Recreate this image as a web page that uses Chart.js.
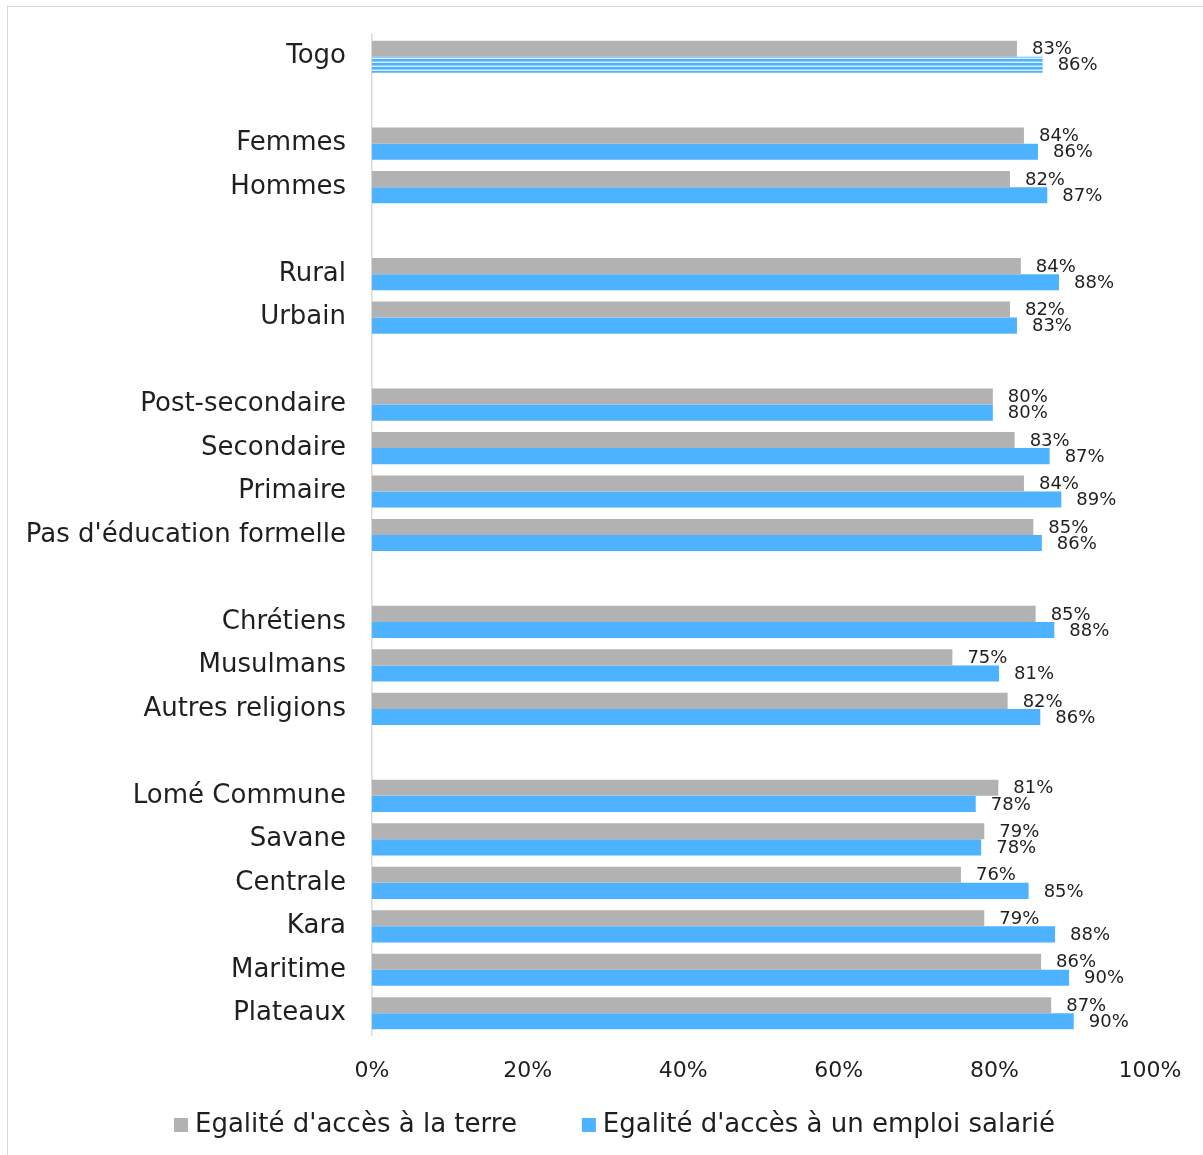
<!DOCTYPE html>
<html>
<head>
<meta charset="utf-8">
<script src="https://cdn.jsdelivr.net/npm/chart.js@4"></script>
<style>
    html, body { margin: 0; padding: 0; background: #fff; }
    #frame {
        position: absolute; left: 7px; top: 6px;
        width: 1200px; height: 1160px;
        border-left: 1.5px solid #d9d9d9; border-top: 1.5px solid #d9d9d9;
    }
    #wrap { position: absolute; left: 8px; top: 7px; width: 1195px; height: 1148px; }
</style>
</head>
<body>
<div id="frame"></div>
<div id="wrap"><canvas id="accesChart"></canvas></div>
<script>
// Catégories (les chaînes vides servent de séparateurs entre groupes)
const categories = [
    "Togo", "",
    "Femmes", "Hommes", "",
    "Rural", "Urbain", "",
    "Post-secondaire", "Secondaire", "Primaire", "Pas d'éducation formelle", "",
    "Chrétiens", "Musulmans", "Autres religions", "",
    "Lomé Commune", "Savane", "Centrale", "Kara", "Maritime", "Plateaux"
];

// Egalité d'accès à la terre (%)
const terreValues = [
    82.9, null,
    83.8, 82.0, null,
    83.4, 82.0, null,
    79.8, 82.6, 83.8, 85.0, null,
    85.3, 74.6, 81.7, null,
    80.5, 78.7, 75.7, 78.7, 86.0, 87.3
];

// Egalité d'accès à un emploi salarié (%)
const emploiValues = [
    86.2, null,
    85.6, 86.8, null,
    88.3, 82.9, null,
    79.8, 87.1, 88.6, 86.1, null,
    87.7, 80.6, 85.9, null,
    77.6, 78.3, 84.4, 87.8, 89.6, 90.2
];

// Etiquettes affichées (arrondies)
const terreLabels = ["83%", "", "84%", "82%", "", "84%", "82%", "", "80%", "83%", "84%", "85%", "", "85%", "75%", "82%", "", "81%", "79%", "76%", "79%", "86%", "87%"];
const emploiLabels = ["86%", "", "86%", "87%", "", "88%", "83%", "", "80%", "87%", "89%", "86%", "", "88%", "81%", "86%", "", "78%", "78%", "85%", "88%", "90%", "90%"];

const seriesNames = ["Egalité d'accès à la terre", "Egalité d'accès à un emploi salarié"];
const xTicks = [0, 20, 40, 60, 80, 100];

const GRAY = "#b2b2b2";
const BLUE = "#4db2ff";
const TEXT = "#1f1f1f";
const FONT = "'DejaVu Sans', sans-serif";

// Motif rayé pour la barre "Togo"
function makeStripes() {
    const c = document.createElement("canvas");
    c.width = 8; c.height = 4;
    const g = c.getContext("2d");
    g.fillStyle = "#d6ecff";
    g.fillRect(0, 0, 8, 4);
    g.fillStyle = BLUE;
    g.fillRect(0, 0, 8, 2.5);
    return g.createPattern(c, "repeat");
}

const emploiColors = categories.map((c, i) => (i === 0 ? makeStripes() : BLUE));

// Etiquettes de valeurs à droite des barres
const valueLabels = {
    id: "valueLabels",
    afterDatasetsDraw(chart) {
        const ctx = chart.ctx;
        const texts = [terreLabels, emploiLabels];
        ctx.save();
        ctx.font = "18px " + FONT;
        ctx.fillStyle = TEXT;
        ctx.textBaseline = "middle";
        ctx.textAlign = "left";
        chart.data.datasets.forEach((ds, di) => {
            chart.getDatasetMeta(di).data.forEach((el, i) => {
                if (ds.data[i] == null) return;
                ctx.fillText(texts[di][i], el.x + 15, el.y + 1);
            });
        });
        ctx.restore();
    }
};

// Légende dessinée à la main (espacement comme dans l'original)
const bottomLegend = {
    id: "bottomLegend",
    afterDraw(chart) {
        const ctx = chart.ctx;
        const colors = [GRAY, BLUE];
        const box = 14, gap = 7, between = 65;
        ctx.save();
        ctx.font = "26px " + FONT;
        const widths = seriesNames.map(t => ctx.measureText(t).width);
        const total = widths.reduce((a, w) => a + box + gap + w, 0) + between;
        let x = chart.width / 2 - total / 2 + 9;
        const y = 1118;
        ctx.textBaseline = "middle";
        seriesNames.forEach((name, i) => {
            ctx.fillStyle = colors[i];
            ctx.fillRect(x, y - box / 2, box, box);
            ctx.fillStyle = TEXT;
            ctx.fillText(name, x + box + gap, y);
            x += box + gap + widths[i] + between;
        });
        ctx.restore();
    }
};

function createChart() {
    let ctx = document.getElementById("accesChart").getContext("2d");
    new Chart(ctx, {
        type: "bar",
        data: {
            labels: categories,
            datasets: [
                { label: seriesNames[0], data: terreValues, backgroundColor: GRAY },
                { label: seriesNames[1], data: emploiValues, backgroundColor: emploiColors }
            ]
        },
        options: {
            indexAxis: "y",
            responsive: true,
            maintainAspectRatio: false,
            animation: false,
            categoryPercentage: 0.74,
            barPercentage: 1.0,
            layout: { padding: { top: 28, right: 53, bottom: 52, left: 0 } },
            scales: {
                x: {
                    min: 0, max: 100,
                    afterBuildTicks: (s) => { s.ticks = xTicks.map(v => ({ value: v })); },
                    afterFit: (s) => { s.height = 68; s.paddingLeft = 0; s.paddingRight = 0; },
                    grid: { display: false, drawTicks: false },
                    border: { display: false },
                    ticks: {
                        padding: 23,
                        color: TEXT,
                        font: { family: FONT, size: 22 },
                        callback: (v) => v + "%"
                    }
                },
                y: {
                    afterFit: (s) => { s.width = 364; s.paddingTop = 0; s.paddingBottom = 0; },
                    grid: { display: false, drawTicks: false },
                    border: { display: true, color: "#d9d9d9", width: 1.5 },
                    ticks: {
                        padding: 26,
                        autoSkip: false,
                        color: TEXT,
                        font: { family: FONT, size: 26 }
                    }
                }
            },
            plugins: {
                legend: { display: false },
                tooltip: { enabled: false }
            }
        },
        plugins: [valueLabels, bottomLegend]
    });
}

document.addEventListener("DOMContentLoaded", createChart);
</script>
</body>
</html>
